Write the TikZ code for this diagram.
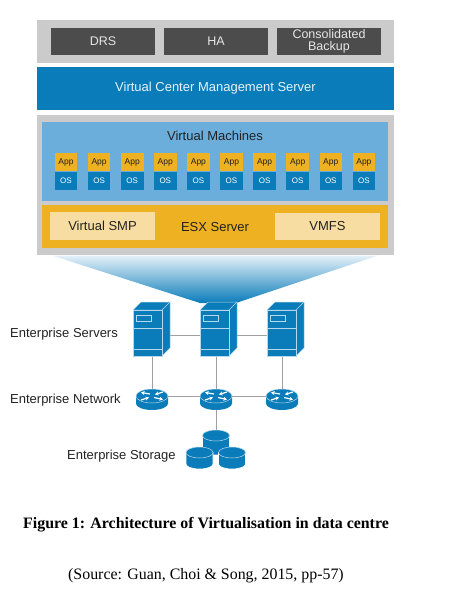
\documentclass[tikz,border=0pt]{standalone}
\usepackage{fontspec}
\setmainfont{Liberation Serif}
\setsansfont{Liberation Sans}
\usetikzlibrary{backgrounds,arrows.meta,shapes.geometric}
\definecolor{cblue}{HTML}{0A7CBA}
\definecolor{cpanel}{HTML}{6BAEDC}
\definecolor{cgold}{HTML}{EDB121}
\definecolor{clight}{HTML}{F8DDA3}
\definecolor{cdark}{HTML}{4C4C4C}
\definecolor{cgray}{HTML}{CBCBCB}
\definecolor{cline}{HTML}{A0A0A0}
\definecolor{ctxt}{HTML}{222222}
\tikzset{
  x=1pt,y=-1pt,
  every node/.style={font=\sffamily},
  lab/.style={font=\sffamily\fontsize{13}{15}\selectfont,text=ctxt,inner sep=0pt},
  bx/.style={inner sep=0pt,outer sep=0pt,align=center},
  conn/.style={draw=cline,line width=0.9pt},
  edge3d/.style={draw=white!70!cblue,line width=0.5pt,fill=cblue,line join=round},
  rarrow/.style={white,line width=1.2pt,-{Stealth[length=3.6pt,width=4pt]}},
}
% name, x1, y1, x2, y2, fill, text style, text
\newcommand{\bxn}[8]{%
  \pgfmathsetmacro{\bw}{#4-#2}\pgfmathsetmacro{\bh}{#5-#3}%
  \pgfmathsetmacro{\bcx}{(#2+#4)/2}\pgfmathsetmacro{\bcy}{(#3+#5)/2}%
  \node[bx,fill=#6,minimum width=\bw pt,minimum height=\bh pt,#7] (#1) at (\bcx,\bcy) {#8};}
% server: name, left x
\newcommand{\srv}[2]{%
  \draw[edge3d] (#2,310)--(#2+8,302)--(#2+37,302)--(#2+37,348)--(#2+29,356)--(#2+29,310)--cycle;
  \draw[edge3d] (#2+29,310)--(#2+37,302);
  \bxn{#1}{#2}{310}{#2+29}{356}{cblue}{draw=white!70!cblue,line width=0.5pt}{}
  \draw[white!70!cblue,line width=0.5pt] (#2+3,315) rectangle (#2+18,321);
  \draw[white!70!cblue,line width=0.5pt] (#2,328)--(#2+29,328) (#2,349.5)--(#2+29,349.5);
}
% router: name, centre x
\newcommand{\rtr}[2]{%
  \fill[cblue] (#2-16,396)--(#2-16,403.5) arc[start angle=180,end angle=0,x radius=16,y radius=6.5]--(#2+16,396)--cycle;
  \node[ellipse,bx,fill=cblue,draw=white!70!cblue,line width=0.5pt,minimum width=32pt,minimum height=14pt] (#1) at (#2,396) {};
  \draw[rarrow] (#2-2,394)--(#2-11,392.5);
  \draw[rarrow] (#2-11,400)--(#2-3,397.5);
  \draw[rarrow] (#2+2,397.5)--(#2+11,399.5);
  \draw[rarrow] (#2+11,392)--(#2+3,394.5);
}
% disk: name, centre x, top y, rx, height
\newcommand{\dsk}[5]{%
  \fill[cblue,draw=white,line width=0.6pt] (#2-#4,#3+5.5)--(#2-#4,#3+#5-5) arc[start angle=180,end angle=0,x radius=#4,y radius=5]--(#2+#4,#3+5.5)--cycle;
  \node[ellipse,bx,fill=cblue,draw=white!70!cblue,line width=0.5pt,minimum width=2*#4 pt,minimum height=11pt] (#1) at (#2,#3+5.5) {};
}
\begin{document}
\begin{tikzpicture}
\useasboundingbox (0,0) rectangle (458,613);
% top band
\bxn{topband}{37}{20}{394}{63}{cgray}{}{}
\bxn{drs}{51}{28}{155}{55}{cdark}{text=white!90!black,font=\sffamily\fontsize{12.5}{12}\selectfont}{DRS}
\bxn{ha}{164}{28}{268}{55}{cdark}{text=white!90!black,font=\sffamily\fontsize{12.5}{12}\selectfont}{HA}
\bxn{backup}{277}{28}{381}{55}{cdark}{text=white!90!black,font=\sffamily\fontsize{12.5}{11.5}\selectfont}{Consolidated\\Backup}
\bxn{vcenter}{37}{67}{394}{110}{cblue}{text=white!90!cblue,font=\sffamily\fontsize{13}{15}\selectfont}{Virtual Center Management Server}
% virtualisation block
\bxn{block}{37}{115}{394}{255}{cgray}{}{}
\bxn{vmpanel}{42}{122}{388}{201}{cpanel}{}{}
\node[lab] (vmtitle) at (215,136) {Virtual Machines};
\foreach \i in {0,...,9}{
  \pgfmathsetmacro{\xa}{54.7+33.1*\i}
  \pgfmathsetmacro{\xb}{\xa+22.6}
  \bxn{app\i}{\xa}{153}{\xb}{171}{cgold}{text=ctxt,font=\sffamily\fontsize{8.5}{10}\selectfont}{App}
  \bxn{os\i}{\xa}{171.5}{\xb}{190}{cblue}{text=white,font=\sffamily\fontsize{8}{9}\selectfont}{OS}
}
\bxn{esx}{42}{205}{388}{248}{cgold}{}{}
\bxn{smp}{50}{212}{155}{240}{clight}{font=\sffamily\fontsize{13}{15}\selectfont,text=ctxt}{Virtual SMP}
\bxn{vmfs}{275}{213}{380}{240}{clight}{font=\sffamily\fontsize{13}{15}\selectfont,text=ctxt}{VMFS}
\node[lab] (esxlabel) at (215,227) {ESX Server};
% projection
\shade[top color=white!82!cpanel,middle color=cpanel,bottom color=cblue] (52,255.5)--(378,255.5)--(236,303)--(200,303)--cycle;
% devices
\srv{s1}{133}
\srv{s2}{200}
\srv{s3}{267}
\rtr{r1}{152}
\rtr{r2}{216}
\rtr{r3}{282}
\dsk{d1}{216}{430}{13.5}{25}
\dsk{d2}{199.5}{447}{13.5}{22}
\dsk{d3}{232}{447}{13.5}{22}
\begin{scope}[on background layer]
  \draw[conn] ([yshift=-2pt]s1.center)--([yshift=-2pt]s2.center);
  \draw[conn] ([yshift=-2pt]s2.center)--([yshift=-2pt]s3.center);
  \draw[conn] (r1.north |- s1.south)--(r1.north);
  \draw[conn] (r2.north |- s2.south)--(r2.north);
  \draw[conn] (r3.north |- s3.south)--(r3.north);
  \draw[conn] (r1.east)--(r2.west);
  \draw[conn] (r2.east)--(r3.west);
  \draw[conn] (r2.south)--(d1.north);
\end{scope}
% labels
\node[lab,anchor=west] (lsrv) at (10,334) {Enterprise Servers};
\node[lab,anchor=west] (lnet) at (10,400) {Enterprise Network};
\node[lab,anchor=west] (lsto) at (67,456) {Enterprise Storage};
\node[inner sep=0pt,anchor=west,font=\rmfamily\bfseries\fontsize{15.9}{18}\selectfont] (cap) at (23,525) {Figure 1: Architecture of Virtualisation in data centre};
\node[inner sep=0pt,anchor=west,font=\rmfamily\fontsize{15.9}{18}\selectfont] (src) at (68,576) {(Source: Guan, Choi \& Song, 2015, pp-57)};
\end{tikzpicture}
\end{document}
